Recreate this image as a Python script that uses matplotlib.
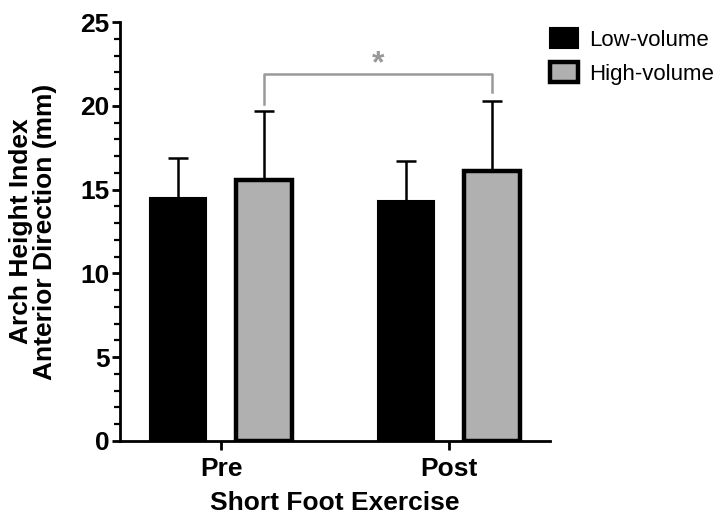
"""Arch height index (anterior direction) before/after short foot exercise."""
import matplotlib.pyplot as plt
import matplotlib.patches as mpatches
import numpy as np

plt.rcParams['font.family'] = ['Liberation Sans', 'DejaVu Sans']

# Data
groups = ['Pre', 'Post']
low_mean = [14.5, 14.3]
low_sd = [2.4, 2.4]
high_mean = [15.6, 16.1]
high_sd = [4.1, 4.2]
series = ['Low-volume', 'High-volume']

black = '#000000'
grey = '#b0b0b0'

fig = plt.figure(figsize=(7.21, 5.25), dpi=100)
ax = fig.add_axes([0.1664, 0.16, 0.5966, 0.798])

x = np.arange(len(groups))
width = 0.245
off = 0.187

ax.bar(x - off, low_mean, width, color=black, edgecolor=black,
       linewidth=1.5, zorder=3)
ax.bar(x + off, high_mean, width, color=grey, edgecolor=black,
       linewidth=3.2, zorder=3)

ax.errorbar(x - off, low_mean, yerr=[np.zeros(2), low_sd], fmt='none',
            ecolor=black, elinewidth=1.8, capsize=7, capthick=1.8, zorder=2)
ax.errorbar(x + off, high_mean, yerr=[np.zeros(2), high_sd], fmt='none',
            ecolor=black, elinewidth=1.8, capsize=7, capthick=1.8, zorder=2)

# significance bracket
bx = [x[0] + off, x[0] + off, x[1] + off, x[1] + off]
by = [20.1, 21.9, 21.9, 20.8]
ax.plot(bx, by, color='#999999', lw=1.8, clip_on=False, zorder=4)
ax.text((x[0] + x[1]) / 2 + off, 22.5, '*', color='#999999', fontsize=23,
        fontweight='bold', ha='center', va='center')

ax.set_xlim(-0.443, 1.443)
ax.set_ylim(0, 25)
ax.set_yticks(range(0, 26, 5))
ax.set_yticks(range(0, 26, 1), minor=True)
ax.set_xticks(x)
ax.set_xticklabels(groups)

for s in ['top', 'right']:
    ax.spines[s].set_visible(False)
for s in ['left', 'bottom']:
    ax.spines[s].set_linewidth(2.0)

ax.tick_params(axis='y', which='major', length=6, width=2.0,
               labelsize=19, pad=1.5)
ax.tick_params(axis='y', which='minor', length=4, width=1.6)
ax.tick_params(axis='x', length=6.5, width=2.0, labelsize=19, pad=5)
for lbl in ax.get_xticklabels() + ax.get_yticklabels():
    lbl.set_fontweight('bold')

ax.set_ylabel('Arch Height Index\nAnterior Direction (mm)', fontsize=19,
              fontweight='bold', labelpad=17, linespacing=1.0)
ax.set_xlabel('Short Foot Exercise', fontsize=19, fontweight='bold',
              labelpad=7)

handles = [
    mpatches.Patch(facecolor=black, edgecolor=black, linewidth=1.5,
                   label=series[0]),
    mpatches.Patch(facecolor=grey, edgecolor=black, linewidth=3.2,
                   label=series[1]),
]
fig.legend(handles=handles, loc='upper left',
           bbox_to_anchor=(0.763, 0.947), frameon=False, fontsize=16,
           handlelength=1.26, handleheight=1.04, handletextpad=0.5,
           labelspacing=0.5, borderaxespad=0, borderpad=0)

fig.savefig('out.png', dpi=100)
